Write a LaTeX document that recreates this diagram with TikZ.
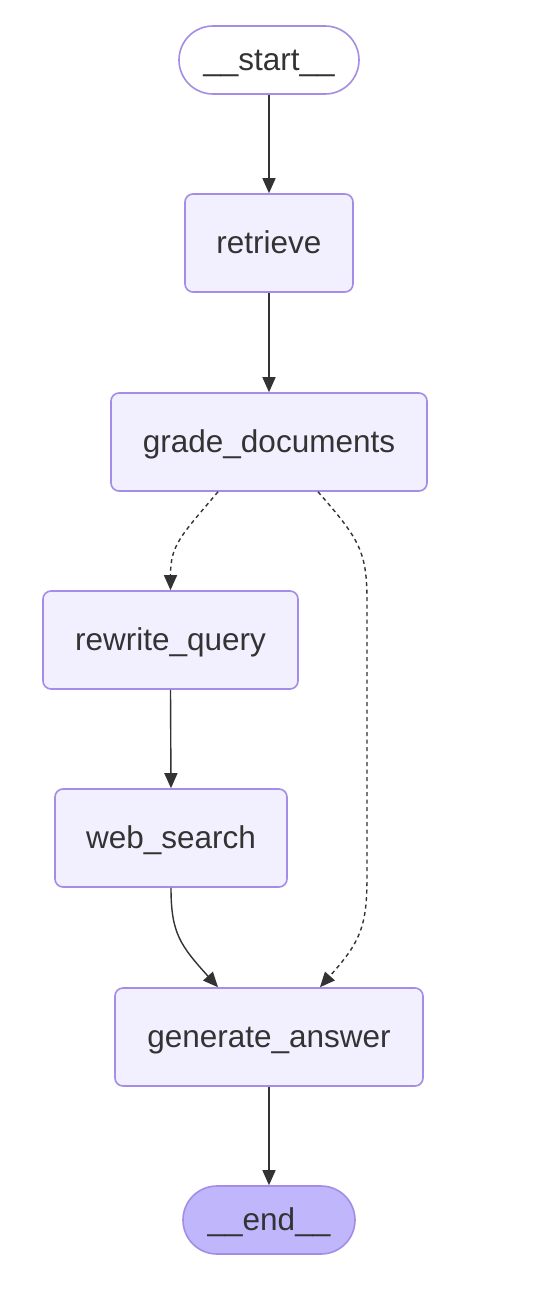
\documentclass[tikz,border=0pt]{standalone}
\usepackage{fontspec}
\setmainfont{Liberation Sans}
\usetikzlibrary{arrows.meta,calc}
\definecolor{nodefill}{HTML}{F2F0FF}
\definecolor{nodeline}{HTML}{A58CE6}
\definecolor{endfill}{HTML}{BFB6FC}
\definecolor{ink}{HTML}{333333}
\tikzset{
  box/.style={draw=nodeline, line width=1.6pt, fill=nodefill, rounded corners=8pt,
    minimum height=98pt, inner sep=0pt, text height=26pt, text depth=6pt, text=ink,
    font=\fontsize{31.5}{36}\selectfont},
  pill/.style={draw=nodeline, line width=1.6pt, rounded corners=34pt,
    minimum height=68pt, inner sep=0pt, text height=26pt, text depth=6pt, text=ink,
    font=\fontsize{31.5}{36}\selectfont},
  edge/.style={draw=ink, line width=1.4pt, -{Triangle[length=15pt,width=13pt]}},
  dedge/.style={edge, dash pattern=on 4pt off 3.5pt}
}
\begin{document}
\begin{tikzpicture}[x=1pt,y=-1pt]
\useasboundingbox[fill=white] (0,0) rectangle (542,1294);
\node[pill, fill=white, minimum width=180pt] (start) at (269,60) {\_\_start\_\_};
\node[box, minimum width=168pt] (retrieve) at (269,243) {retrieve};
\node[box, minimum width=316pt] (grade) at (269,442) {grade\_documents};
\node[box, minimum width=255pt] (rewrite) at (170.5,640) {rewrite\_query};
\node[box, minimum width=232pt] (web) at (171,838) {web\_search};
\node[box, minimum width=308pt] (gen) at (269,1037) {generate\_answer};
\node[pill, fill=endfill, minimum width=172pt] (end) at (269,1220) {\_\_end\_\_};

\draw[edge] (start.south) -- (retrieve.north);
\draw[edge] (retrieve.south) -- (grade.north);
\draw[dedge] ($(grade.south)+(-51,0)$) .. controls +(-38,45) and +(0,-45) .. (rewrite.north);
\draw[dedge] ($(grade.south)+(49,0)$) .. controls +(42,48) and +(0,-50) .. ($(grade.south)+(98,110)$)
  -- ($(gen.north)+(98,-110)$) .. controls +(0,50) and +(40,-45) .. ($(gen.north)+(51,0)$);
\draw[edge] (rewrite.south) -- (web.north);
\draw[edge] (web.south) .. controls +(0,45) and +(-38,-42) .. ($(gen.north)+(-51,0)$);
\draw[edge] (gen.south) -- (end.north);
\end{tikzpicture}
\end{document}
